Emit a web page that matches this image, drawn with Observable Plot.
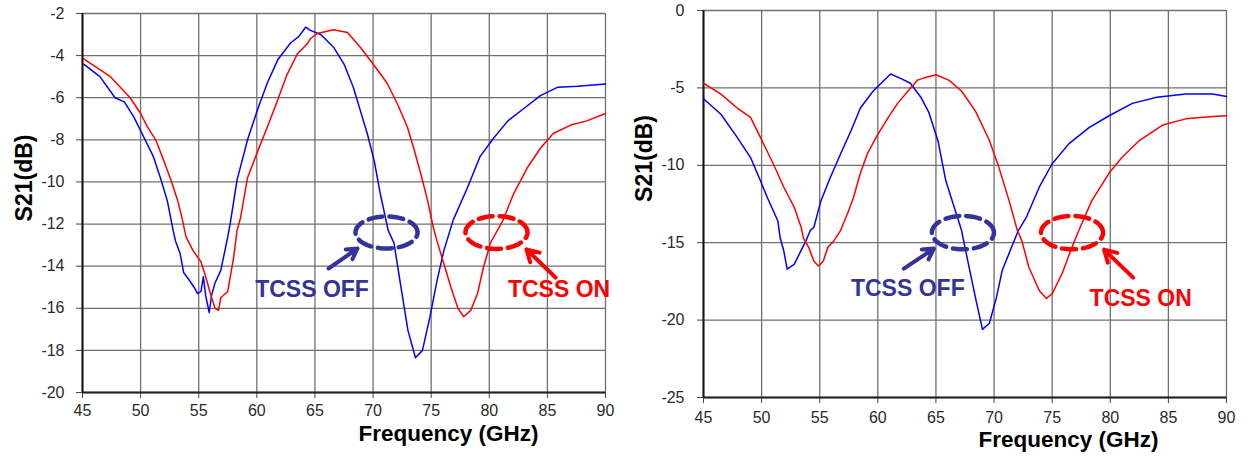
<!DOCTYPE html>
<html>
<head>
<meta charset="utf-8">
<script src="https://cdn.jsdelivr.net/npm/d3@7"></script>
<script src="https://cdn.jsdelivr.net/npm/@observablehq/plot@0.6"></script>
<style>
  html, body { margin: 0; padding: 0; background: white; }
  #wrap { position: relative; width: 1248px; height: 458px; overflow: hidden; background: white; }
  #left { position: absolute; left: 0; top: 0; }
  #right { position: absolute; left: 620px; top: 0; }
</style>
</head>
<body>
<div id="wrap"><div id="left"></div><div id="right"></div></div>
<script>
// ---------- Data ----------
const xTicks = [45, 50, 55, 60, 65, 70, 75, 80, 85, 90];
const yTicksLeft = [-20, -18, -16, -14, -12, -10, -8, -6, -4, -2];
const yTicksRight = [-25, -20, -15, -10, -5, 0];

// Left panel, TCSS OFF (blue)
const freqLeftOff = [45.1, 46.5, 47.8, 48.6, 49.4, 50.3, 51.1, 51.7, 52.3, 52.8, 53.0, 53.4, 53.7, 54.1, 54.6, 54.9, 55.2, 55.4, 55.6, 55.9, 56.1, 56.4, 56.9, 57.5, 57.7, 58.3, 59.2, 60.1, 60.9, 61.8, 62.9, 63.6, 64.2, 64.6, 65.5, 66.6, 67.5, 68.3, 68.9, 69.5, 70.1, 70.6, 71.3, 71.8, 72.4, 73.0, 73.65, 74.25, 74.9, 75.5, 76.1, 76.9, 78.1, 79.2, 80.4, 81.6, 83.0, 84.4, 85.9, 87.6, 90.0];
const s21LeftOff = [-4.4, -5.0, -6.0, -6.2, -6.9, -7.9, -8.8, -9.8, -10.9, -12.3, -12.8, -13.4, -14.3, -14.6, -15.0, -15.3, -15.2, -14.5, -15.4, -16.2, -15.4, -14.8, -14.2, -12.6, -12.0, -9.9, -8.0, -6.5, -5.3, -4.2, -3.4, -3.1, -2.65, -2.8, -3.0, -3.6, -4.4, -5.5, -6.6, -7.7, -9.0, -10.5, -12.3, -12.9, -15.0, -17.05, -18.35, -18.0, -16.4, -14.7, -13.25, -11.8, -10.3, -8.8, -7.9, -7.1, -6.5, -5.9, -5.5, -5.45, -5.35];

// Left panel, TCSS ON (red)
const freqLeftOn = [45.1, 47.4, 49.1, 50.0, 50.6, 51.3, 52.0, 52.6, 53.2, 53.6, 53.9, 54.5, 55.2, 55.6, 56.0, 56.4, 56.7, 56.9, 57.5, 58.0, 58.3, 58.6, 59.2, 60.1, 60.9, 61.8, 62.6, 63.5, 63.8, 64.4, 64.6, 65.2, 66.6, 67.8, 68.9, 70.0, 71.2, 72.1, 72.96, 73.5, 74.1, 74.7, 75.2, 75.5, 76.1, 76.7, 77.3, 77.8, 78.4, 78.99, 79.5, 80.1, 80.7, 81.2, 82.1, 83.3, 84.4, 85.5, 87.0, 88.4, 90.0];
const s21LeftOn = [-4.15, -5.0, -6.0, -6.75, -7.4, -8.0, -9.0, -9.9, -10.9, -11.8, -12.6, -13.25, -13.8, -14.5, -15.3, -16.0, -16.1, -15.5, -15.2, -13.6, -12.3, -11.7, -9.8, -8.5, -7.4, -6.1, -4.9, -3.9, -3.75, -3.4, -3.2, -2.95, -2.77, -2.9, -3.6, -4.4, -5.3, -6.3, -7.4, -8.4, -9.6, -10.9, -12.2, -12.8, -13.9, -15.0, -16.0, -16.4, -16.1, -15.3, -14.05, -12.9, -12.3, -11.8, -10.55, -9.3, -8.4, -7.7, -7.3, -7.1, -6.75];

// Right panel, TCSS OFF (blue)
const freqRightOff = [45.0, 46.5, 47.9, 49.05, 49.9, 50.5, 51.4, 51.6, 51.9, 52.2, 52.8, 53.4, 53.8, 54.2, 54.5, 55.1, 55.9, 56.8, 57.7, 58.5, 59.6, 61.1, 62.0, 62.8, 63.7, 64.4, 65.2, 65.85, 67.2, 67.8, 68.4, 69.0, 69.6, 70.2, 70.7, 71.5, 72.1, 72.75, 73.9, 75.0, 76.45, 78.2, 79.9, 81.9, 84.0, 86.5, 88.8, 90.0];
const s21RightOff = [-5.7, -6.7, -8.2, -9.5, -11.0, -12.1, -13.6, -14.7, -15.5, -16.7, -16.4, -15.5, -14.9, -14.2, -14.0, -12.3, -10.8, -9.25, -7.75, -6.3, -5.2, -4.1, -4.4, -4.7, -5.6, -6.6, -8.5, -11.0, -14.2, -16.4, -18.55, -20.6, -20.2, -18.55, -16.8, -15.3, -14.2, -13.4, -11.4, -9.9, -8.6, -7.55, -6.8, -6.0, -5.6, -5.4, -5.4, -5.55];

// Right panel, TCSS ON (red)
const freqRightOn = [45.0, 46.5, 47.9, 49.05, 49.9, 51.0, 51.9, 52.8, 53.4, 53.6, 54.05, 54.5, 54.9, 55.3, 55.7, 56.2, 56.8, 57.4, 57.9, 58.5, 59.1, 60.0, 60.9, 61.7, 62.6, 63.4, 64.0, 64.8, 65.0, 66.1, 67.2, 68.4, 69.6, 70.4, 71.3, 72.0, 72.4, 73.0, 73.9, 74.5, 75.0, 75.85, 76.7, 77.3, 78.4, 79.9, 81.0, 82.5, 84.5, 86.5, 88.8, 90.0];
const s21RightOn = [-4.7, -5.4, -6.3, -6.9, -8.2, -9.9, -11.4, -12.7, -14.0, -14.7, -15.3, -16.2, -16.5, -16.2, -15.3, -14.9, -14.2, -13.1, -12.1, -10.5, -9.25, -8.0, -6.9, -6.0, -5.2, -4.5, -4.35, -4.2, -4.15, -4.5, -5.2, -6.5, -8.4, -10.1, -12.3, -14.2, -14.9, -16.6, -18.1, -18.6, -18.3, -17.0, -15.3, -14.2, -12.3, -10.5, -9.5, -8.4, -7.4, -7.0, -6.85, -6.8];

// Annotations (data coordinates)
const labelOff = "TCSS OFF";
const labelOn = "TCSS ON";
const annLeft = {
  ellipseOff: {cx: 71.16, cy: -12.4, rx: 2.67, ry: 0.76},
  ellipseOn: {cx: 80.62, cy: -12.4, rx: 2.67, ry: 0.78},
  arrowOff: {x1: 66.17, y1: -14.11, x2: 68.66, y2: -13.16},
  arrowOn: {x1: 85.70, y1: -14.54, x2: 83.2, y2: -13.2},
  textOff: {x: 64.75, y: -15.1},
  textOn: {x: 86.0, y: -15.1}
};
const annRight = {
  ellipseOff: {cx: 67.32, cy: -14.35, rx: 2.67, ry: 1.08},
  ellipseOn: {cx: 76.71, cy: -14.35, rx: 2.67, ry: 1.08},
  arrowOff: {x1: 62.24, y1: -16.68, x2: 64.82, y2: -15.38},
  arrowOn: {x1: 81.97, y1: -17.26, x2: 79.47, y2: -15.45},
  textOff: {x: 62.58, y: -17.94},
  textOn: {x: 82.62, y: -18.62}
};

const blue = "#0000ff", red = "#ff0000", navy = "#333399";
const font = "'Liberation Sans', Arial, sans-serif";

function ellipsePts(e) {
  return d3.range(0, 361, 4).map(a => {
    const t = a * Math.PI / 180;
    return {x: e.cx + e.rx * Math.cos(t), y: e.cy + e.ry * Math.sin(t)};
  });
}

function panel(o) {
  const off = o.freqOff.map((f, i) => ({x: f, y: o.s21Off[i]}));
  const on = o.freqOn.map((f, i) => ({x: f, y: o.s21On[i]}));
  const a = o.ann;
  return Plot.plot({
    width: o.width, height: 458,
    marginLeft: o.marginLeft, marginRight: o.marginRight,
    marginTop: o.marginTop, marginBottom: o.marginBottom,
    x: {domain: [45, 90]},
    y: {domain: o.yDomain},
    style: {fontFamily: font, fontSize: "16px", color: "#333", background: "white", overflow: "visible"},
    marks: [
      Plot.gridX(xTicks, {stroke: "#707070", strokeOpacity: 1, strokeWidth: 1.3}),
      Plot.gridY(o.yTicks, {stroke: "#707070", strokeOpacity: 1, strokeWidth: 1.3}),
      Plot.axisX(xTicks, {tickSize: 6, tickPadding: o.xPad, label: null, stroke: "#444", fontSize: 16, fill: "#2a2a2a"}),
      Plot.axisY(o.yTicks, {tickSize: 6, tickPadding: o.yPad, label: null, stroke: "#444", fontSize: 16, fill: "#2a2a2a", tickFormat: d => String(d).replace("\u2212", "-")}),
      Plot.ruleX([45], {stroke: "#111", strokeWidth: 2}),
      Plot.ruleY([o.yDomain[0]], {stroke: "#222", strokeWidth: 1.8}),
      Plot.line(off, {x: "x", y: "y", stroke: blue, strokeWidth: 1.5}),
      Plot.line(on, {x: "x", y: "y", stroke: red, strokeWidth: 1.5}),
      Plot.line(ellipsePts(a.ellipseOff), {x: "x", y: "y", stroke: navy, strokeWidth: 4.5, strokeDasharray: "14,7"}),
      Plot.line(ellipsePts(a.ellipseOn), {x: "x", y: "y", stroke: red, strokeWidth: 4.5, strokeDasharray: "14,7"}),
      Plot.arrow([a.arrowOff], {x1: "x1", y1: "y1", x2: "x2", y2: "y2", stroke: navy, strokeWidth: 4, headLength: 12}),
      Plot.arrow([a.arrowOn], {x1: "x1", y1: "y1", x2: "x2", y2: "y2", stroke: red, strokeWidth: 4, headLength: 12}),
      Plot.text([a.textOff], {x: "x", y: "y", text: () => labelOff, fill: navy, fontSize: 23, fontWeight: "bold", textAnchor: "middle", lineAnchor: "middle"}),
      Plot.text([a.textOn], {x: "x", y: "y", text: () => labelOn, fill: red, fontSize: 23, fontWeight: "bold", textAnchor: "middle", lineAnchor: "middle"}),
      Plot.text(["S21(dB)"], {frameAnchor: "left", dx: o.yLabelDx, dy: o.yLabelDy, rotate: -90, textAnchor: "middle", lineAnchor: "middle", fontSize: 23, fontWeight: "bold", fill: "black"}),
      Plot.text(["Frequency (GHz)"], {frameAnchor: "bottom", dx: o.xLabelDx, dy: o.xLabelDy, textAnchor: "middle", lineAnchor: "middle", fontSize: 22.5, fontWeight: "bold", fill: "black"})
    ]
  });
}

document.getElementById("left").append(panel({
  width: 620, marginLeft: 82, marginRight: 15, marginTop: 13, marginBottom: 66,
  yDomain: [-20, -2], yTicks: yTicksLeft, yPad: 12, xPad: 6,
  freqOff: freqLeftOff, s21Off: s21LeftOff, freqOn: freqLeftOn, s21On: s21LeftOn,
  ann: annLeft, yLabelDx: -58, yLabelDy: -25, xLabelDx: 104.5, xLabelDy: 41
}));
document.getElementById("right").append(panel({
  width: 628, marginLeft: 83, marginRight: 22, marginTop: 10, marginBottom: 61,
  yDomain: [-25, 0], yTicks: yTicksRight, yPad: 13, xPad: 8,
  freqOff: freqRightOff, s21Off: s21RightOff, freqOn: freqRightOn, s21On: s21RightOn,
  ann: annRight, yLabelDx: -59, yLabelDy: -45.5, xLabelDx: 103.5, xLabelDy: 42
}));
</script>
</body>
</html>
